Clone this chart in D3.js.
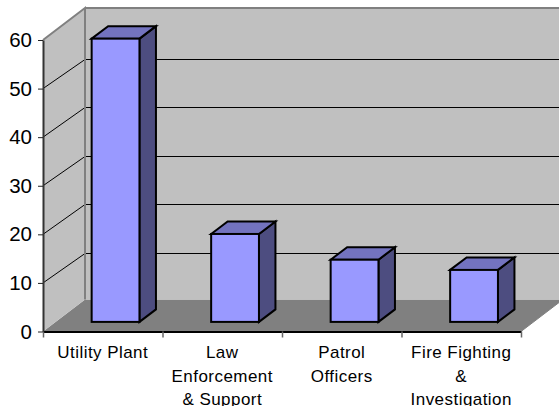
<!DOCTYPE html>
<html>
<head>
<meta charset="utf-8">
<script src="https://cdn.jsdelivr.net/npm/d3@7/dist/d3.min.js"></script>
<style>
html,body{margin:0;padding:0;background:#fff;overflow:hidden}
svg{display:block}
text{font-family:"Liberation Sans",Arial,sans-serif;fill:#000}
</style>
</head>
<body>
<script>
const categories = ["Utility Plant", "Law Enforcement & Support", "Patrol Officers", "Fire Fighting & Investigation"];
const labelLines = [["Utility Plant"], ["Law", "Enforcement", "& Support"], ["Patrol", "Officers"], ["Fire Fighting", "&", "Investigation"]];
const values = [58.3, 18.1, 12.8, 10.7];
const yTicks = [0, 10, 20, 30, 40, 50, 60];

const W = 559, H = 406;
const svg = d3.select("body").append("svg").attr("width", W).attr("height", H).attr("viewBox", `0 0 ${W} ${H}`);

const plot = {left: 43, right: 521, top: 40, bottom: 331.5};
const wallDx = 42, wallDy = 32;        // 3D depth of the whole box
const gridDy = 30;                     // vertical shift of gridlines on the back wall
const barOffX = 12.8, barOffY = 9.6;   // bar front plane inside the box
const barDx = 16.5, barDy = 12.5;      // 3D depth of each bar

const y = d3.scaleLinear().domain([0, 60]).range([plot.bottom, plot.top]);
const x = d3.scaleBand().domain(categories).range([plot.left, plot.right]).paddingInner(0.6).paddingOuter(0.3);
const xEdges = d3.scaleLinear().domain([0, categories.length]).range([plot.left, plot.right]);

const poly = pts => pts.map(p => p.join(",")).join(" ");

// Floor
svg.append("polygon")
  .attr("points", poly([[plot.left, plot.bottom], [plot.left + wallDx, plot.bottom - wallDy], [plot.right + wallDx, plot.bottom - wallDy], [plot.right, plot.bottom]]))
  .attr("fill", "#808080");
// Back wall
svg.append("rect")
  .attr("x", plot.left + wallDx).attr("y", plot.top - wallDy)
  .attr("width", plot.right - plot.left).attr("height", plot.bottom - plot.top)
  .attr("fill", "#C0C0C0");
// Left wall
svg.append("polygon")
  .attr("points", poly([[plot.left, plot.top], [plot.left + wallDx, plot.top - wallDy], [plot.left + wallDx, plot.bottom - wallDy], [plot.left, plot.bottom]]))
  .attr("fill", "#C0C0C0");

// Gridlines: left wall diagonals and back wall horizontals
const gridTicks = yTicks.filter(d => d > 0 && d < 60);
svg.append("g").selectAll("path").data(gridTicks).join("path")
  .attr("d", d => `M${plot.left},${y(d)}L${plot.left + wallDx},${Math.round(y(d) - gridDy) + 0.5}H${plot.right + wallDx}`)
  .attr("fill", "none").attr("stroke", "#000").attr("stroke-width", 1);

// Wall borders
svg.append("path")
  .attr("d", `M${plot.left},${plot.top}L${plot.left + wallDx},${plot.top - wallDy}V${plot.bottom - wallDy}M${plot.left + wallDx},${plot.top - wallDy}H${plot.right + wallDx}`)
  .attr("fill", "none").attr("stroke", "#808080").attr("stroke-width", 2);

// Front-right floor edge
svg.append("path")
  .attr("d", `M${plot.right},${plot.bottom}L${plot.right + wallDx},${plot.bottom - wallDy}`)
  .attr("fill", "none").attr("stroke", "#808080").attr("stroke-width", 1);

// Bars
const bars = svg.append("g").selectAll("g").data(categories).join("g")
  .attr("stroke", "#000").attr("stroke-width", 2).attr("stroke-linejoin", "miter");
const bx0 = c => x(c) + barOffX;
const bx1 = c => x(c) + x.bandwidth() + barOffX;
const bTop = (c, i) => y(values[i]) - barOffY;
const bBot = plot.bottom - barOffY;
bars.append("polygon").attr("fill", "#4D4D80")
  .attr("points", (c, i) => poly([[bx1(c), bTop(c, i)], [bx1(c) + barDx, bTop(c, i) - barDy], [bx1(c) + barDx, bBot - barDy], [bx1(c), bBot]]));
bars.append("polygon").attr("fill", "#7373BF")
  .attr("points", (c, i) => poly([[bx0(c), bTop(c, i)], [bx0(c) + barDx, bTop(c, i) - barDy], [bx1(c) + barDx, bTop(c, i) - barDy], [bx1(c), bTop(c, i)]]));
bars.append("rect").attr("fill", "#9999FF")
  .attr("x", bx0).attr("y", bTop).attr("width", x.bandwidth())
  .attr("height", (c, i) => bBot - bTop(c, i));

// Y axis
const yAxis = svg.append("g").attr("transform", `translate(${plot.left},0)`)
  .call(d3.axisLeft(y).tickValues(yTicks).tickSize(5).tickSizeOuter(0).tickPadding(6));
yAxis.selectAll("text").attr("font-size", 20.5).style("font-family", '"Liberation Sans",Arial,sans-serif').attr("fill", "#000");
yAxis.selectAll("line").attr("stroke", "#222");
yAxis.select(".domain").attr("stroke", "#333").attr("stroke-width", 2);

// X axis
const xAxis = svg.append("g").attr("transform", `translate(0,${plot.bottom})`)
  .call(d3.axisBottom(xEdges).tickValues(d3.range(categories.length + 1)).tickFormat("").tickSize(6).tickSizeOuter(0));
xAxis.selectAll("line").attr("stroke", "#666").attr("stroke-width", 1.5);
xAxis.select(".domain").attr("stroke", "#000").attr("stroke-width", 2);

// Category labels
const labels = svg.append("g").selectAll("text").data(categories).join("text")
  .attr("text-anchor", "middle").attr("font-size", 17).attr("letter-spacing", 0.45).attr("fill", "#222");
labels.each(function (c, i) {
  d3.select(this).selectAll("tspan").data(labelLines[i]).join("tspan")
    .attr("x", x(c) + x.bandwidth() / 2)
    .attr("y", (d, j) => 358 + j * 23.5)
    .text(d => d);
});
</script>
</body>
</html>
